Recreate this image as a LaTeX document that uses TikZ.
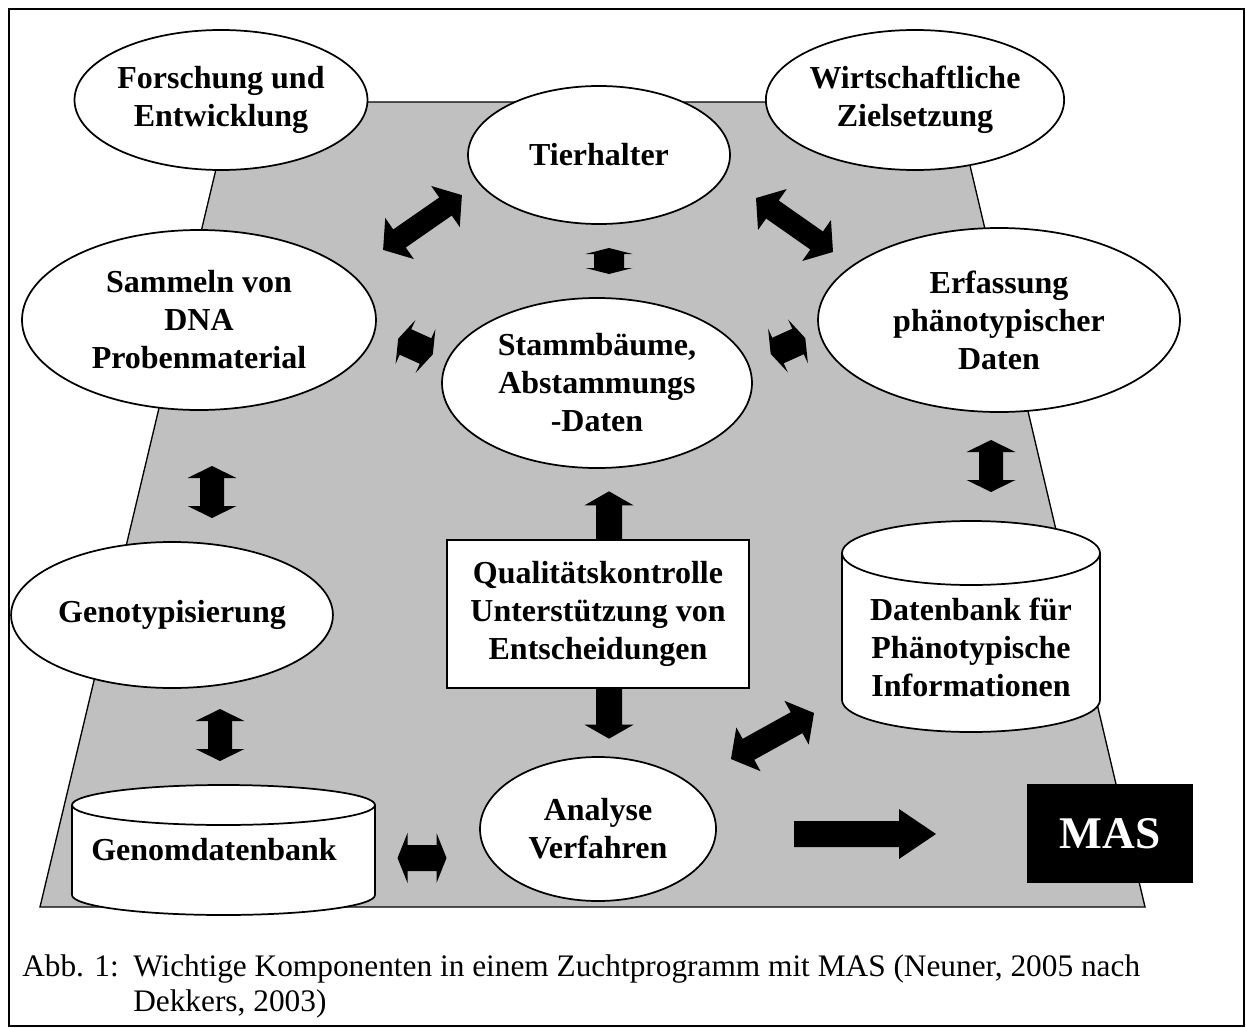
\documentclass[tikz,border=0pt]{standalone}
\usepackage{fontspec}
\setmainfont{Liberation Serif}
\usetikzlibrary{shapes.geometric}
\definecolor{trapgray}{RGB}{192,192,192}
\newdimen\pxu \pxu=0.75pt
\newcommand{\dblarr}[6]{%
  \fill[shift={(#1)}, rotate=#2] (-#3,0) -- (-#3+#4,#5) -- (-#3+#4,#6) -- (#3-#4,#6) -- (#3-#4,#5) -- (#3,0)
   -- (#3-#4,-#5) -- (#3-#4,-#6) -- (-#3+#4,-#6) -- (-#3+#4,-#5) -- cycle;}
\begin{document}
\begin{tikzpicture}[x=0.75pt,y=-0.75pt,
  bub/.style={ellipse, draw=black, fill=white, line width=1.3pt, inner sep=0pt, align=center,
    font=\bfseries\fontsize{24}{28.5}\selectfont},
  lbl/.style={inner sep=0pt, align=center, font=\bfseries\fontsize{24}{28.5}\selectfont},
  cyl/.style={draw=black, fill=white, line width=1.3pt},
  captxt/.style={inner sep=0pt, anchor=base west, font=\fontsize{23.5}{28}\selectfont}
]
\useasboundingbox (0,0) rectangle (1246,1028);
\draw[line width=1.5pt] (9,9) rectangle (1244,1026);
\filldraw[fill=trapgray, draw=black, line width=1pt] (232,102) -- (955,102) -- (1145,907) -- (40,907) -- cycle;

% ellipses
\node[bub, minimum width=290\pxu, minimum height=140\pxu] (fe) at (221,100) {Forschung und\\Entwicklung};
\node[bub, minimum width=262\pxu, minimum height=138\pxu] (th) at (599,155) {Tierhalter};
\node[bub, minimum width=280\pxu, minimum height=140\pxu] (wz) at (915,100) {Wirtschaftliche\\Zielsetzung};
\node[bub, minimum width=354\pxu, minimum height=180\pxu] (sd) at (199,320) {Sammeln von\\DNA\\Probenmaterial};
\node[bub, minimum width=310\pxu, minimum height=170\pxu] (sb) at (597,383) {Stammb\"aume,\\Abstammungs\\-Daten};
\node[bub, minimum width=362\pxu, minimum height=184\pxu] (ep) at (999,320) {Erfassung\\ph\"anotypischer\\Daten};
\node[bub, minimum width=300\pxu, minimum height=146\pxu] (gt) at (172,615) {Genotypisierung};
\node[bub, minimum width=236\pxu, minimum height=144\pxu] (av) at (598,829) {Analyse\\Verfahren};

% box
\node[draw=black, fill=white, line width=1pt, minimum width=302\pxu, minimum height=148\pxu, lbl] (qk) at (598,614)
  {Qualit\"atskontrolle\\Unterst\"utzung von\\Entscheidungen};

% cylinder Datenbank
\filldraw[cyl] (842,553) -- (842,700) arc[start angle=180, end angle=360, x radius=129\pxu, y radius=32\pxu] -- (1100,553);
\draw[cyl] (971,553) ellipse [x radius=129\pxu, y radius=32\pxu];
\begin{scope}
  \clip (0,0) rectangle (1246,697);
  \node[lbl] (db) at (971,647) {Datenbank f\"ur\\Ph\"anotypische\\Informationen};
\end{scope}

% cylinder Genomdatenbank
\filldraw[cyl] (72,805) -- (72,895) arc[start angle=180, end angle=360, x radius=151.5\pxu, y radius=20\pxu] -- (375,805);
\draw[cyl] (223.5,805) ellipse [x radius=151.5\pxu, y radius=20\pxu];
\node[lbl] (gd) at (214,850) {Genomdatenbank};

% MAS
\node[fill=black, text=white, minimum width=166\pxu, minimum height=99\pxu, inner sep=0pt,
  font=\bfseries\fontsize{34}{40}\selectfont] (mas) at (1110,833.5) {MAS};

% block arrows (double)
\coordinate (a1) at (422.5,222.5);
\coordinate (a2) at (794.5,225);
\coordinate (a3) at (609,261);
\coordinate (a4) at (415.5,346.5);
\coordinate (a5) at (788,346);
\coordinate (a6) at (212,492);
\coordinate (a7) at (991,466);
\coordinate (a8) at (220,735);
\coordinate (a9) at (422,858);
\coordinate (a10) at (772.5,736);
\dblarr{a1}{34.8}{48}{20}{25}{11}
\dblarr{a2}{-35}{47}{20}{25}{11}
\dblarr{a3}{90}{13}{6}{23.5}{15}
\dblarr{a4}{-24.3}{19}{8}{24}{14}
\dblarr{a5}{24.3}{19}{8}{24}{14}
\dblarr{a6}{90}{26}{12}{24.5}{12}
\dblarr{a7}{90}{26}{12}{24.5}{12}
\dblarr{a8}{90}{26}{12}{24.5}{12}
\dblarr{a9}{0}{24.5}{10}{25}{13}
\dblarr{a10}{29}{47.5}{20}{25}{12}

% single arrows
\fill[shift={(qk.north)}] (-2,0) -- (-2,-34) -- (-13.5,-34) -- (11,-48) -- (35.5,-34) -- (24,-34) -- (24,0) -- cycle;
\fill[shift={(qk.south)}] (-2,0) -- (-2,36) -- (-13.5,36) -- (11,50) -- (35.5,36) -- (24,36) -- (24,0) -- cycle;
\coordinate (bigA) at (794,834);
\fill[shift={(bigA)}] (0,-13) -- (105,-13) -- (105,-25) -- (142,0) -- (105,25) -- (105,13) -- (0,13) -- cycle;

% caption
\node[captxt] (c1) at (22,976) {Abb. 1:};
\node[captxt] (c2) at (133,976) {Wichtige Komponenten in einem Zuchtprogramm mit MAS (Neuner, 2005 nach};
\node[captxt] (c3) at (133,1011) {Dekkers, 2003)};
\end{tikzpicture}
\end{document}
